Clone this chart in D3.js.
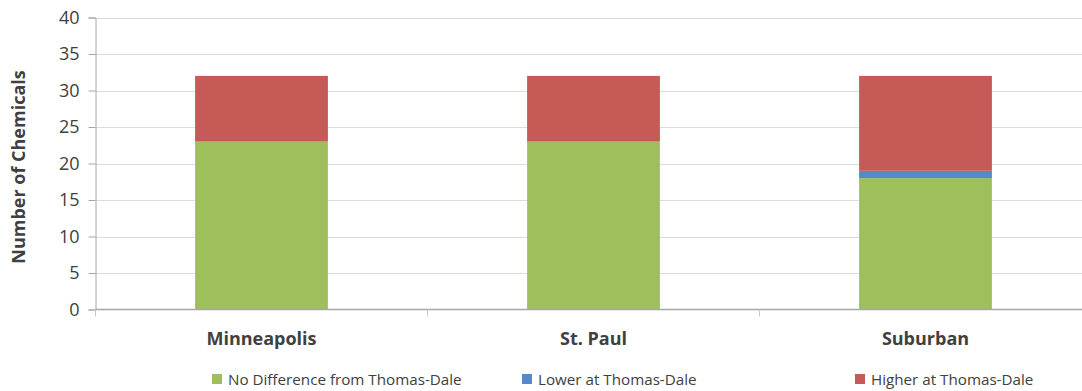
<!DOCTYPE html>
<html>
<head>
<meta charset="utf-8">
<script src="https://cdn.jsdelivr.net/npm/d3@7"></script>
<style>
  html, body { margin: 0; padding: 0; background: #fff; }
  svg { display: block; }
  text { font-family: "Open Sans", "Liberation Sans", sans-serif; fill: #404040; }
</style>
</head>
<body>
<svg id="chart" width="1082" height="391"></svg>
<script>
// Chemical comparison counts by area
const categories = ["Minneapolis", "St. Paul", "Suburban"];
const seriesNames = ["No Difference from Thomas-Dale", "Lower at Thomas-Dale", "Higher at Thomas-Dale"];
const noDifference = [23, 23, 18];
const lowerAtTD = [0, 0, 1];
const higherAtTD = [9, 9, 13];
const yTicks = [0, 5, 10, 15, 20, 25, 30, 35, 40];
const seriesColors = ["#9FBF5D", "#568AC6", "#C55A57"];

(function () {
const svg = d3.select("#chart");
const width = 1082;
const plotLeft = 95.5, plotTop = 17.5, plotBottom = 309.5;

// Band range runs past the right edge of the canvas
const x = d3.scaleBand().domain(categories).range([plotLeft, plotLeft + 332 * 3])
  .paddingInner(0.6).paddingOuter(0.3);
const y = d3.scaleLinear().domain([0, 40]).range([plotBottom, plotTop]);

// Horizontal gridlines
svg.append("g").selectAll("line").data(yTicks.filter(d => d > 0)).join("line")
  .attr("x1", plotLeft).attr("x2", width)
  .attr("y1", d => Math.round(y(d)) + 0.5).attr("y2", d => Math.round(y(d)) + 0.5)
  .attr("stroke", "#DCDCDC").attr("stroke-width", 1);

// Stacked bars
const rows = categories.map((c, i) => ({
  cat: c,
  [seriesNames[0]]: noDifference[i],
  [seriesNames[1]]: lowerAtTD[i],
  [seriesNames[2]]: higherAtTD[i]
}));
const stacked = d3.stack().keys(seriesNames)(rows);
svg.append("g").selectAll("g").data(stacked).join("g")
  .attr("fill", (d, i) => seriesColors[i])
  .selectAll("rect").data(d => d.filter(p => p[1] > p[0])).join("rect")
  .attr("x", d => x(d.data.cat))
  .attr("width", x.bandwidth())
  .attr("y", d => y(d[1]))
  .attr("height", d => y(d[0]) - y(d[1]));

// Y axis
const yAxis = d3.axisLeft(y).tickValues(yTicks).tickSize(7).tickPadding(9);
const gy = svg.append("g").attr("transform", `translate(${plotLeft},0)`).call(yAxis);
gy.select(".domain").attr("stroke", "#A6A6A6");
gy.selectAll(".tick line").attr("stroke", "#A6A6A6");
gy.selectAll(".tick text").attr("font-size", 18).attr("fill", "#404040")
  .attr("font-family", "Open Sans, sans-serif");

// X axis with ticks at category boundaries
const gx = svg.append("g").attr("transform", `translate(0,${plotBottom})`);
gx.append("line").attr("x1", plotLeft).attr("x2", width).attr("y1", 0).attr("y2", 0)
  .attr("stroke", "#A6A6A6").attr("stroke-width", 1.5);
const step = x.step();
const boundaries = d3.range(categories.length + 1).map(i => plotLeft + i * step)
  .filter(v => v <= width);
gx.selectAll("line.tk").data(boundaries).join("line").attr("class", "tk")
  .attr("x1", d => d).attr("x2", d => d).attr("y1", 0).attr("y2", 7)
  .attr("stroke", "#C8C8C8");
gx.selectAll("text").data(categories).join("text")
  .attr("x", d => x(d) + x.bandwidth() / 2)
  .attr("y", 35)
  .attr("text-anchor", "middle")
  .attr("font-size", 18).attr("font-weight", "bold").attr("fill", "#1a1a1a")
  .text(d => d);

// Y axis title
svg.append("text")
  .attr("transform", `translate(25,167) rotate(-90)`)
  .attr("text-anchor", "middle")
  .attr("font-size", 18).attr("font-weight", "bold").attr("fill", "#1a1a1a")
  .text("Number of Chemicals");

// Legend
const legendX = [212, 522, 855];
const lg = svg.append("g").selectAll("g").data(seriesNames).join("g")
  .attr("transform", (d, i) => `translate(${legendX[i]},374)`);
lg.append("rect").attr("width", 10).attr("height", 10)
  .attr("fill", (d, i) => seriesColors[i]);
lg.append("text").attr("x", 16).attr("y", 11).attr("font-size", 15.2)
  .attr("fill", "#404040").text(d => d);
})();
</script>
</body>
</html>
